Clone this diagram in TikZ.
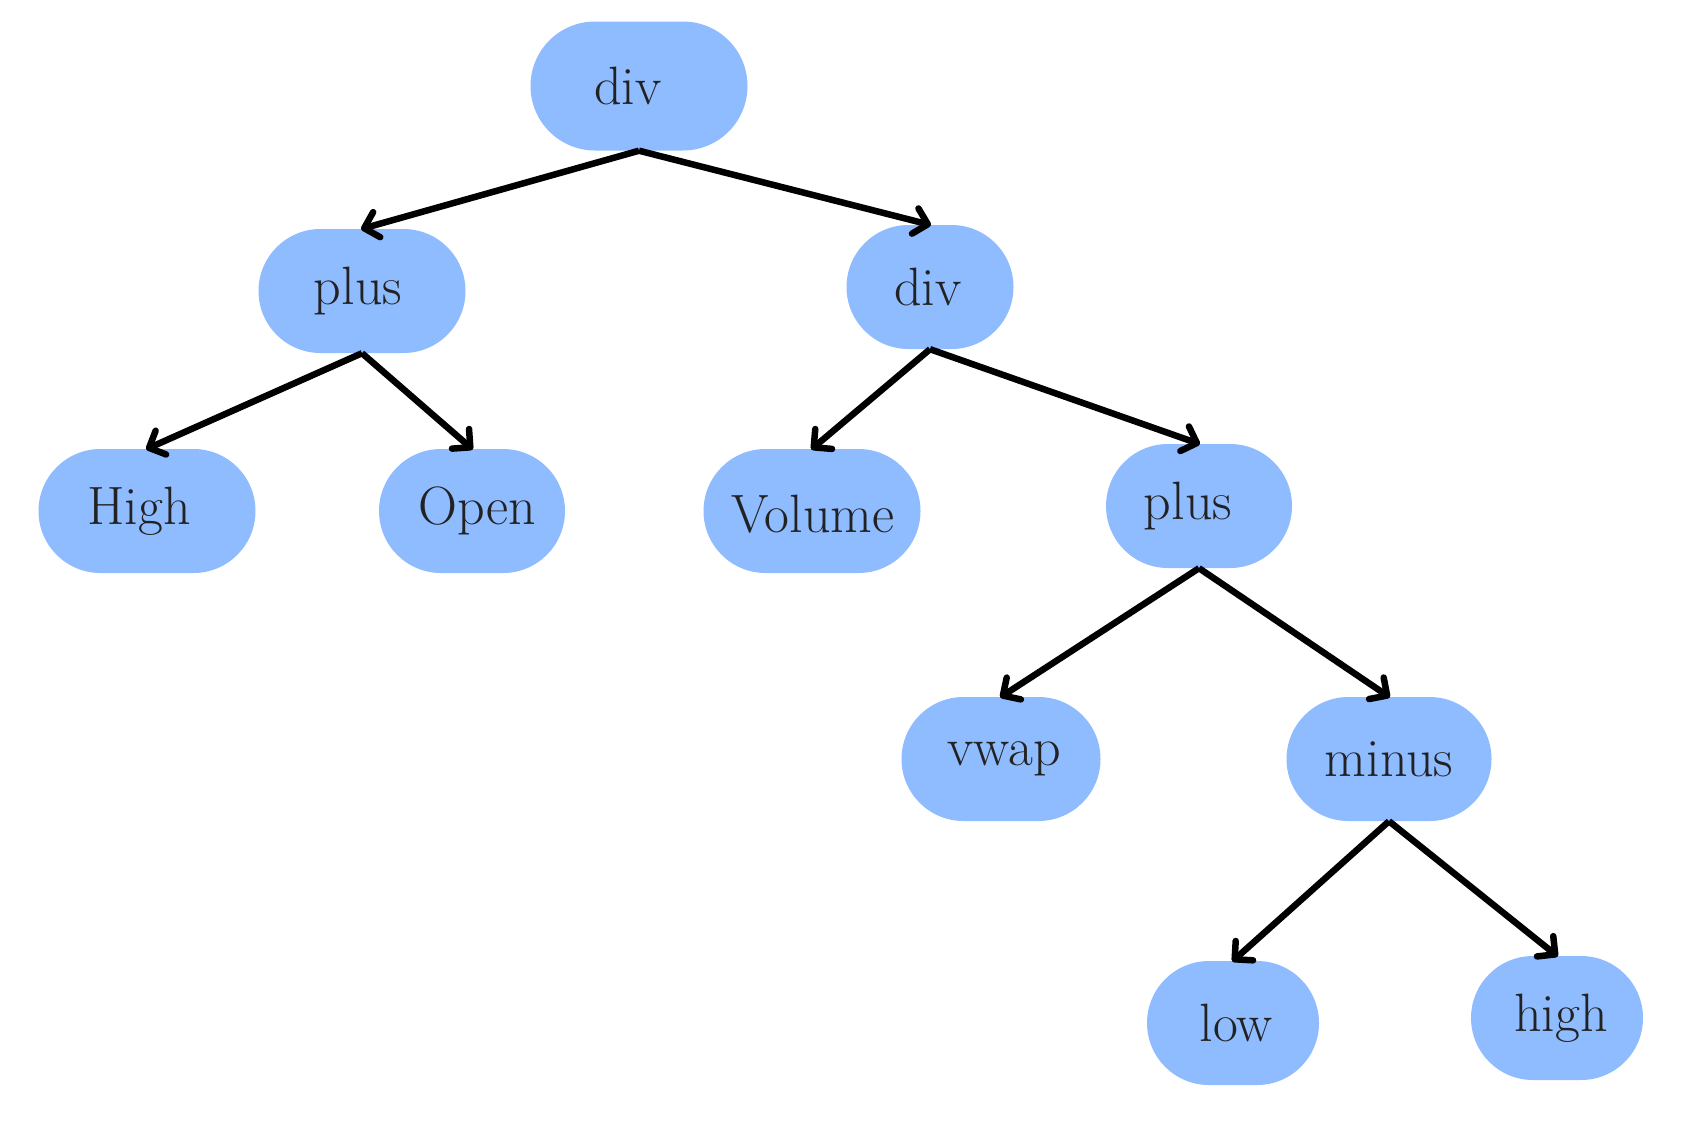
\documentclass[tikz,border=0pt]{standalone}
\usetikzlibrary{shapes.misc,arrows.meta}
\definecolor{blobblue}{RGB}{143,187,255}
\definecolor{txt}{RGB}{34,34,34}
\begin{document}
\begin{tikzpicture}[x=1pt,y=-1pt,
  blob/.style={rounded rectangle, fill=blobblue, inner sep=0pt,
    minimum height=124pt},
  lbl/.style={text=txt, font=\fontsize{54}{60}\selectfont, inner sep=0pt},
  edge/.style={line width=6.5pt, -{Straight Barb[length=13pt,width=26pt,round]}, shorten >=-1pt}]
\useasboundingbox (0,0) rectangle (1688,1133);
\node[blob, minimum width=217pt, minimum height=129pt, label={[lbl,xshift=-11pt]center:div}] (d1) at (639,86) {};
\node[blob, minimum width=207pt, label={[lbl,xshift=-4pt]center:plus}] (p1) at (362,291) {};
\node[blob, minimum width=167pt, label={[lbl,xshift=-2pt]center:div}] (d2) at (930,287) {};
\node[blob, minimum width=217pt, label={[lbl,xshift=-8pt]center:High}] (hi) at (147,511) {};
\node[blob, minimum width=186pt, label={[lbl,xshift=5pt]center:Open}] (op) at (472,511) {};
\node[blob, minimum width=217pt, label={[lbl,xshift=1pt,yshift=-3pt]center:Volume}] (vo) at (812,511) {};
\node[blob, minimum width=186pt, label={[lbl,xshift=-11pt]center:plus}] (p2) at (1199,506) {};
\node[blob, minimum width=199pt, label={[lbl,xshift=3pt]center:vwap}] (vw) at (1001,759) {};
\node[blob, minimum width=205pt, label={[lbl]center:minus}] (mi) at (1389,759) {};
\node[blob, minimum width=172pt, label={[lbl,xshift=3pt]center:low}] (lo) at (1233,1023) {};
\node[blob, minimum width=172pt, label={[lbl,xshift=4pt]center:high}] (hg) at (1557,1018) {};
\draw[edge] (d1.south) -- (p1.north);
\draw[edge] (d1.south) -- (d2.north);
\draw[edge] (p1.south) -- (hi.north);
\draw[edge] (p1.south) -- (op.north);
\draw[edge] (d2.south) -- (vo.north);
\draw[edge] (d2.south) -- (p2.north);
\draw[edge] (p2.south) -- (vw.north);
\draw[edge] (p2.south) -- (mi.north);
\draw[edge] (mi.south) -- (lo.north);
\draw[edge] (mi.south) -- (hg.north);
\end{tikzpicture}
\end{document}
